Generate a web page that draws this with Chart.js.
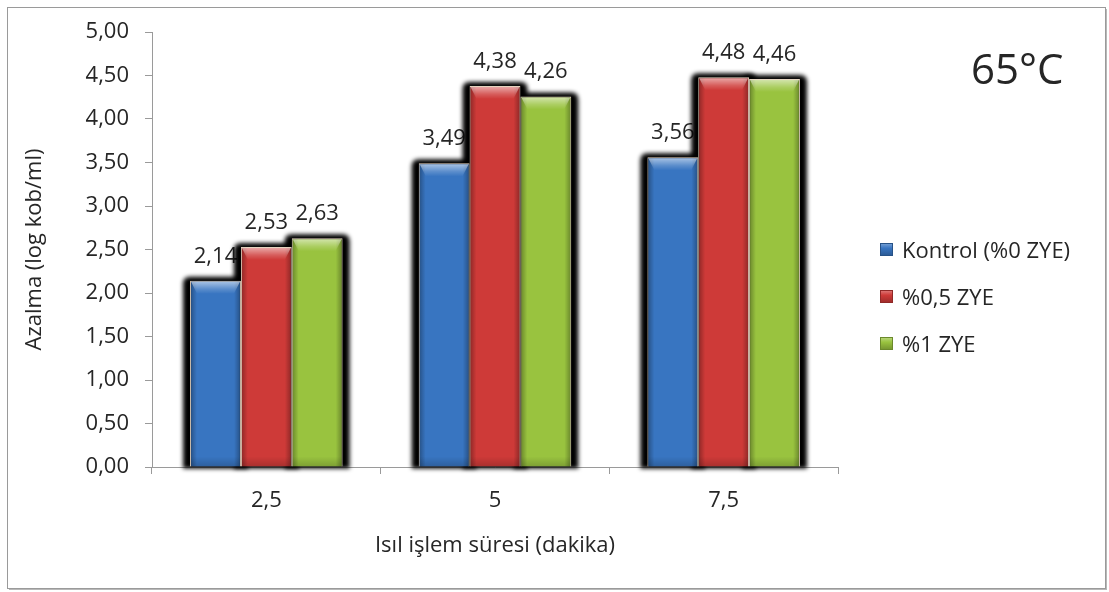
<!DOCTYPE html>
<html>
<head>
<meta charset="utf-8">
<script src="https://cdn.jsdelivr.net/npm/chart.js@4.4.0/dist/chart.umd.min.js"></script>
<style>
  html, body { margin: 0; padding: 0; background: #ffffff; }
  canvas { display: block; }
</style>
</head>
<body>
<canvas id="chart" width="1109" height="592"></canvas>
<script>
// Heat-treatment time (minutes) on the category axis
const categories = ['2,5', '5', '7,5'];

// Reduction values (log kob/ml) per series
const seriesNames = ['Kontrol (%0 ZYE)', '%0,5 ZYE', '%1 ZYE'];
const kontrol = [2.14, 3.49, 3.56];
const zye05 = [2.53, 4.38, 4.48];
const zye1 = [2.63, 4.26, 4.46];
const seriesData = [kontrol, zye05, zye1];

const tempLabel = '65°C';
const xTitle = 'Isıl işlem süresi (dakika)';
const yTitle = 'Azalma (log kob/ml)';

const seriesColors = ['#3875C1', '#CE3A38', '#99C33F'];
const FONT = "'Open Sans', sans-serif";
const FS = 22;
const TEXT = '#262626';
const AXIS = '#9a9a9a';

const fmt = v => Number(v).toFixed(2).replace('.', ',');

function lighten(hex, amt) {
  const n = parseInt(hex.slice(1), 16);
  const r = (n >> 16) & 255, g = (n >> 8) & 255, b = n & 255;
  const f = c => Math.round(c + (255 - c) * amt);
  return `rgb(${f(r)},${f(g)},${f(b)})`;
}
function darken(hex, amt) {
  const n = parseInt(hex.slice(1), 16);
  const r = (n >> 16) & 255, g = (n >> 8) & 255, b = n & 255;
  const f = c => Math.round(c * (1 - amt));
  return `rgb(${f(r)},${f(g)},${f(b)})`;
}

function roundRect(ctx, x, y, w, h, r) {
  ctx.beginPath();
  ctx.moveTo(x + r, y);
  ctx.lineTo(x + w - r, y);
  ctx.quadraticCurveTo(x + w, y, x + w, y + r);
  ctx.lineTo(x + w, y + h);
  ctx.lineTo(x, y + h);
  ctx.lineTo(x, y + r);
  ctx.quadraticCurveTo(x, y, x + r, y);
  ctx.closePath();
}

const barDecor = {
  id: 'barDecor',
  beforeDraw(chart) {
    const ctx = chart.ctx;
    ctx.save();
    ctx.fillStyle = '#ffffff';
    ctx.fillRect(0, 0, chart.width, chart.height);
    // outer frame with a soft right/bottom edge
    ctx.strokeStyle = '#b8b8b8';
    ctx.lineWidth = 2;
    ctx.beginPath();
    ctx.moveTo(1106, 9); ctx.lineTo(1106, 589); ctx.lineTo(9, 589);
    ctx.stroke();
    ctx.strokeStyle = AXIS;
    ctx.lineWidth = 1;
    ctx.strokeRect(7.5, 7.5, 1098, 581);
    ctx.restore();
  },
  beforeDatasetsDraw(chart) {
    const ctx = chart.ctx;
    ctx.save();
    // value labels sit behind the neighbouring bars
    ctx.fillStyle = TEXT;
    ctx.font = `${FS}px ${FONT}`;
    ctx.textAlign = 'center';
    ctx.textBaseline = 'alphabetic';
    chart.data.datasets.forEach((ds, di) => {
      chart.getDatasetMeta(di).data.forEach((bar, i) => {
        ctx.fillText(fmt(ds.data[i]), bar.x, bar.y - 18);
      });
    });
    // dark drop shadow around every bar
    ctx.fillStyle = '#000000';
    ctx.filter = 'blur(2px)';
    chart.data.datasets.forEach((ds, di) => {
      chart.getDatasetMeta(di).data.forEach(bar => {
        const x0 = bar.x - bar.width / 2 - 7;
        const w = bar.width + 14;
        roundRect(ctx, x0, bar.y - 4, w, bar.base - bar.y + 6, 7);
        ctx.fill();
      });
    });
    ctx.filter = 'none';
    ctx.restore();
  },
  afterDatasetsDraw(chart) {
    const ctx = chart.ctx;
    ctx.save();
    chart.data.datasets.forEach((ds, di) => {
      chart.getDatasetMeta(di).data.forEach(bar => {
        const x0 = bar.x - bar.width / 2 + 1;
        const x1 = bar.x + bar.width / 2 - 1;
        const y0 = bar.y + 1;
        const y1 = bar.base;
        // darker vertical edges
        let g = ctx.createLinearGradient(x0, 0, x1, 0);
        g.addColorStop(0, 'rgba(0,0,0,0.28)');
        g.addColorStop(0.12, 'rgba(0,0,0,0.0)');
        g.addColorStop(0.88, 'rgba(0,0,0,0.0)');
        g.addColorStop(1, 'rgba(0,0,0,0.28)');
        ctx.fillStyle = g;
        ctx.fillRect(x0, y0, x1 - x0, y1 - y0);
        // bevelled light top
        g = ctx.createLinearGradient(0, y0, 0, y0 + 12);
        g.addColorStop(0, 'rgba(255,255,255,0.55)');
        g.addColorStop(0.6, 'rgba(255,255,255,0.18)');
        g.addColorStop(1, 'rgba(255,255,255,0)');
        ctx.fillStyle = g;
        ctx.beginPath();
        ctx.moveTo(x0, y0);
        ctx.lineTo(x1, y0);
        ctx.lineTo(x1 - 6, y0 + 12);
        ctx.lineTo(x0 + 6, y0 + 12);
        ctx.closePath();
        ctx.fill();
        // slight darkening toward the base
        g = ctx.createLinearGradient(0, y1 - 10, 0, y1);
        g.addColorStop(0, 'rgba(0,0,0,0)');
        g.addColorStop(1, 'rgba(0,0,0,0.18)');
        ctx.fillStyle = g;
        ctx.fillRect(x0, y1 - 10, x1 - x0, 10);
      });
    });
    ctx.restore();
  },
  afterDraw(chart) {
    const ctx = chart.ctx;
    ctx.save();
    // legend
    const boxX = 880, boxS = 13, textX = 902, firstBase = 258, step = 47;
    ctx.font = `${FS}px ${FONT}`;
    ctx.textAlign = 'left';
    ctx.textBaseline = 'alphabetic';
    chart.data.datasets.forEach((ds, i) => {
      const base = firstBase + i * step;
      const by = base - 15;
      const col = ds.backgroundColor;
      const g = ctx.createLinearGradient(0, by, 0, by + boxS);
      g.addColorStop(0, lighten(col, 0.35));
      g.addColorStop(0.4, col);
      g.addColorStop(1, darken(col, 0.25));
      ctx.fillStyle = g;
      ctx.fillRect(boxX, by, boxS, boxS);
      ctx.strokeStyle = darken(col, 0.3);
      ctx.lineWidth = 1;
      ctx.strokeRect(boxX + 0.5, by + 0.5, boxS - 1, boxS - 1);
      ctx.fillStyle = TEXT;
      ctx.fillText(ds.label, textX, base);
    });
    // temperature tag
    ctx.font = `42px ${FONT}`;
    ctx.fillText(tempLabel, 971, 84);
    ctx.restore();
  }
};

new Chart(document.getElementById('chart'), {
  type: 'bar',
  data: {
    labels: categories,
    datasets: seriesNames.map((name, i) => ({
      label: name,
      data: seriesData[i],
      backgroundColor: seriesColors[i],
      borderColor: 'rgba(255,236,214,0.9)',
      borderWidth: 1,
      categoryPercentage: 0.667,
      barPercentage: 1
    }))
  },
  options: {
    responsive: false,
    animation: false,
    devicePixelRatio: 1,
    layout: { padding: { top: 32, left: 10, right: 271, bottom: 20 } },
    plugins: {
      legend: { display: false },
      tooltip: { enabled: false },
      title: { display: false }
    },
    scales: {
      x: {
        grid: { display: true, drawOnChartArea: false, drawTicks: true, tickLength: 7, color: AXIS, offset: true },
        border: { display: true, color: AXIS, width: 1 },
        ticks: { color: TEXT, font: { family: FONT, size: FS }, padding: 14 },
        title: { display: true, text: xTitle, color: TEXT, font: { family: FONT, size: FS }, padding: { top: 0, bottom: 13 } },
        afterFit(scale) { scale.height = 105; }
      },
      y: {
        min: 0,
        max: 5,
        ticks: { stepSize: 0.5, color: TEXT, font: { family: FONT, size: FS }, padding: 16, callback: v => fmt(v) },
        grid: { display: true, drawOnChartArea: false, drawTicks: true, tickLength: 7, color: AXIS },
        border: { display: true, color: AXIS, width: 1 },
        title: { display: true, text: yTitle, color: TEXT, font: { family: FONT, size: FS }, padding: { top: 12, bottom: 0 } },
        afterFit(scale) { scale.width = 142; }
      }
    }
  },
  plugins: [barDecor]
});
</script>
</body>
</html>
